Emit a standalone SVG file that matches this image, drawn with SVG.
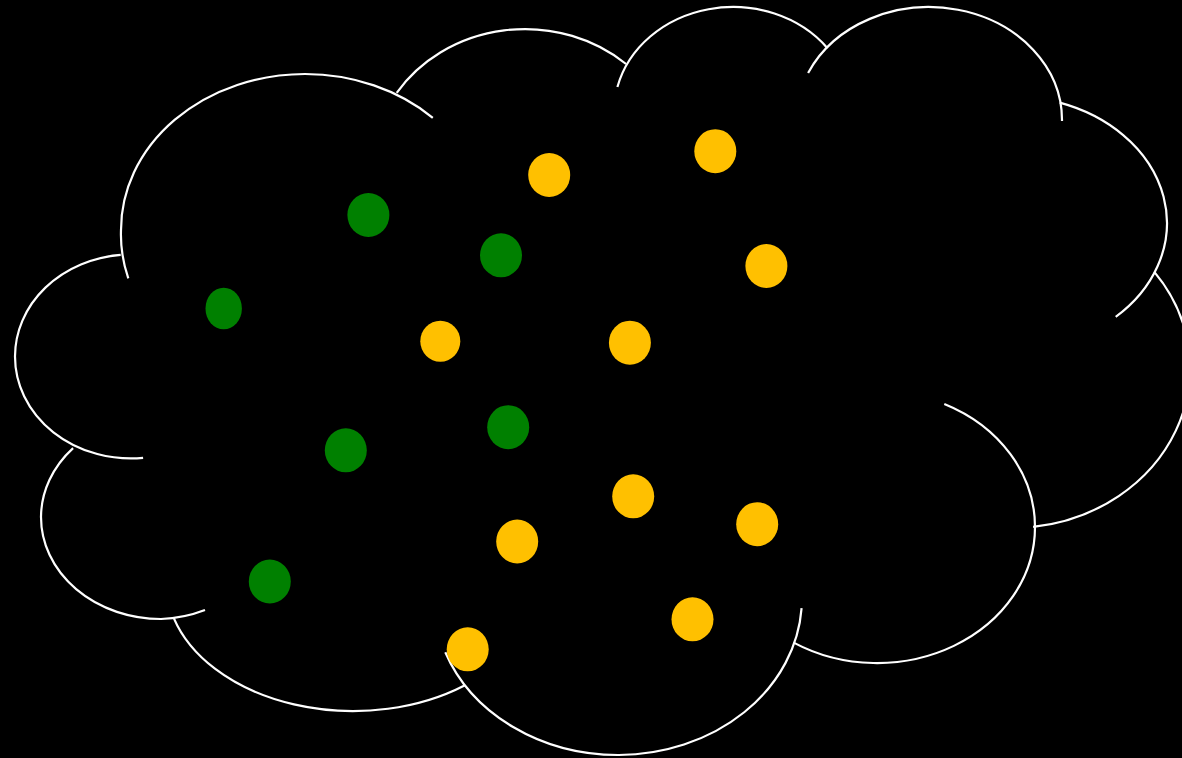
<svg xmlns="http://www.w3.org/2000/svg" width="1182" height="758" viewBox="0 0 1182 758">
<style>
.lobe{fill:none;stroke:#FFFFFF;stroke-width:2.2;}
.y{fill:#FFC000;}
.g{fill:#008000;}
</style>
<rect x="0" y="0" width="1182" height="758" fill="#000000"/>
<g id="cloud">
<path class="lobe" d="M128.3,278.3 A184,156 0 0 1 121,230 A184,156 0 0 1 305,74 A184,156 0 0 1 432.8,117.8"/>
<path class="lobe" d="M396.7,92.8 A153,140 0 0 1 626.1,64"/>
<path class="lobe" d="M617.4,87 A119,105 0 0 1 827.5,48.2"/>
<path class="lobe" d="M808.1,73 A133,113 0 0 1 1062,121"/>
<path class="lobe" d="M1059.8,102.6 A157,127 0 0 1 1115.7,316.9"/>
<path class="lobe" d="M1154.3,271.9 A178,160 0 0 1 1033.1,526.9"/>
<path class="lobe" d="M944.3,403.9 A158,136 0 0 1 1035,527 A158,136 0 0 1 793.7,642.6"/>
<path class="lobe" d="M801.6,608.1 A184,157 0 0 1 619,755 A184,157 0 0 1 445.3,652.2"/>
<path class="lobe" d="M173.8,618.1 A187,130 0 0 0 464.5,685.4"/>
<path class="lobe" d="M73.1,448.1 A120,102 0 0 0 41,517 A120,102 0 0 0 161,619 A120,102 0 0 0 205,610"/>
<path class="lobe" d="M120.7,254.9 A116,102 0 0 0 15,356.5 A116,102 0 0 0 143.1,457.9"/>
</g>
<g id="dots">
<ellipse id="y1" class="y" cx="549.2" cy="175" rx="21" ry="22"/>
<ellipse id="y2" class="y" cx="715.3" cy="151.2" rx="21" ry="22"/>
<ellipse id="y3" class="y" cx="766.4" cy="266" rx="21" ry="22"/>
<ellipse id="y4" class="y" cx="440.3" cy="341.2" rx="20" ry="20.5"/>
<ellipse id="y5" class="y" cx="629.9" cy="342.7" rx="21" ry="22"/>
<ellipse id="y6" class="y" cx="633.2" cy="496.3" rx="21" ry="22"/>
<ellipse id="y7" class="y" cx="757.2" cy="524.2" rx="21" ry="22"/>
<ellipse id="y8" class="y" cx="517.2" cy="541.5" rx="21" ry="22"/>
<ellipse id="y9" class="y" cx="692.5" cy="619.3" rx="21" ry="22"/>
<ellipse id="y10" class="y" cx="467.7" cy="649.3" rx="21" ry="22"/>
<ellipse id="g1" class="g" cx="368.4" cy="215" rx="21" ry="22"/>
<ellipse id="g2" class="g" cx="501" cy="255.3" rx="21" ry="22"/>
<ellipse id="g3" class="g" cx="223.7" cy="308.5" rx="18.2" ry="20.8"/>
<ellipse id="g4" class="g" cx="508.2" cy="427.2" rx="21" ry="22"/>
<ellipse id="g5" class="g" cx="345.8" cy="450.3" rx="21" ry="22"/>
<ellipse id="g6" class="g" cx="269.8" cy="581.5" rx="21" ry="22"/>
</g>
</svg>
